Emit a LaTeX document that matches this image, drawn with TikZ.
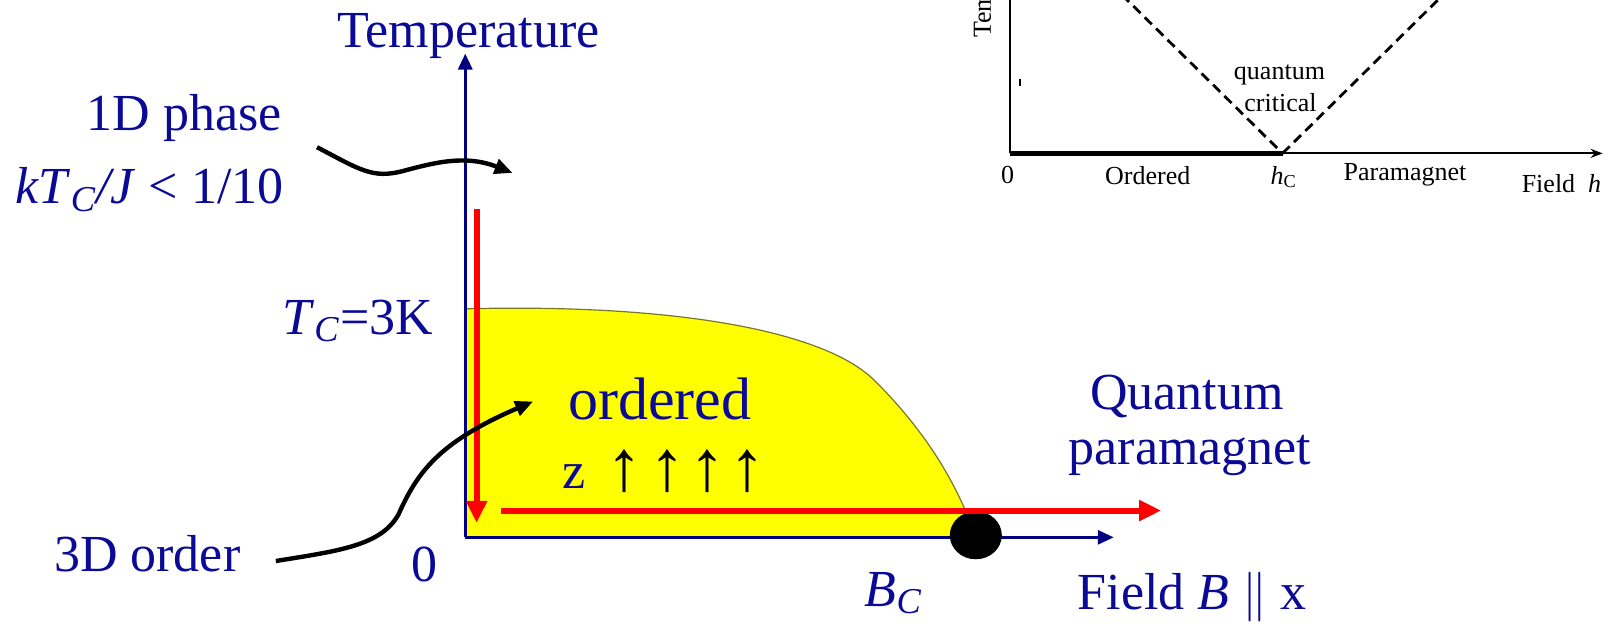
\documentclass[tikz,border=0pt]{standalone}
\usepackage{fontspec}
\setmainfont{Liberation Serif}
\usetikzlibrary{arrows.meta,shapes.geometric}
\definecolor{txtblue}{RGB}{10,10,150}
\definecolor{axblue}{RGB}{0,0,128}
\definecolor{ylw}{RGB}{255,255,0}
\definecolor{olive}{RGB}{120,120,40}
\definecolor{redA}{RGB}{255,0,0}
\tikzset{
  bigtxt/.style={text=txtblue,font=\fontsize{26}{30}\selectfont,inner sep=0pt},
  huge txt/.style={text=txtblue,font=\fontsize{30}{34}\selectfont,inner sep=0pt},
  spinarrow/.style={text=black,font=\fontsize{36}{40}\selectfont,inner sep=0pt},
  insettxt/.style={text=black,font=\fontsize{13}{16}\selectfont,inner sep=0pt},
  axisline/.style={draw=axblue,line width=1.6pt,-{Triangle[length=8pt,width=7pt]}},
  redarrow/.style={draw=redA,line width=3pt,-{Triangle[length=11pt,width=10pt]}},
  pointer/.style={draw=black,line width=2.2pt,-{Triangle[length=9pt,width=7.5pt]}},
  insetaxis/.style={draw=black,line width=1.1pt,-{Stealth[length=6pt,width=4.5pt]}},
  dashedline/.style={draw=black,line width=1.4pt,dash pattern=on 5pt off 3pt}
}
\begin{document}
\begin{tikzpicture}[x=0.5147pt,y=-0.5147pt]
\useasboundingbox (0,0) rectangle (1568,612);
\clip (0,0) rectangle (1568,612);
\fill[white] (0,0) rectangle (1568,612);

% ---------- main diagram ----------
\coordinate (O) at (452,522);
\coordinate (Ttop) at (452,52);
\coordinate (Bend) at (1082,522);

% yellow ordered region
\path[fill=ylw] (O) -- (452,300) .. controls (650,295) and (800,320) .. (850,370)
   .. controls (900,420) and (930,470) .. (948,522) -- cycle;
\draw[olive,line width=0.6pt] (452,300) .. controls (650,295) and (800,320) .. (850,370)
   .. controls (900,420) and (930,470) .. (948,522);

% axes
\draw[axisline] (O) -- (Ttop);
\draw[axisline] (O) -- (Bend);

% critical point
\node[draw=none,fill=black,ellipse,minimum width=26pt,minimum height=24pt,inner sep=0pt] (crit) at (948,520) {};

% red arrows
\coordinate (rv1) at (463,203);
\coordinate (rv2) at (463,508);
\coordinate (rh1) at (487,496);
\coordinate (rh2) at (1128,496);
\draw[redarrow] (rv1) -- (rv2);
\draw[redarrow] (rh1) -- (rh2);

% labels
\node[bigtxt] (temp) at (455,35) {Temperature};
\node[bigtxt,anchor=east] (phase1d) at (274,115) {1D phase};
\node[bigtxt,anchor=east] (ktc) at (276,184) {\textit{kT}\textsubscript{\textit{C}}\textit{/J} {<} 1/10};
\node[bigtxt,anchor=east] (tc) at (421,312) {\textit{T}\textsubscript{\textit{C}}=3K};
\node[bigtxt] (zero) at (412,548) {0};
\node[huge txt] (ordered) at (641,388) {ordered};
\node[bigtxt] (zlab) at (558,463) {z};
\node[spinarrow] (s1) at (607,458) {↑};
\node[spinarrow] (s2) at (648,458) {↑};
\node[spinarrow] (s3) at (687,458) {↑};
\node[spinarrow] (s4) at (726,458) {↑};
\node[bigtxt] (qu) at (1153,385) {Quantum};
\node[bigtxt] (pm) at (1156,442) {paramagnet};
\node[bigtxt] (order3d) at (143,538) {3D order};
\node[bigtxt] (bc) at (868,576) {\textit{B}\textsubscript{\textit{C}}};
\node[bigtxt] (field) at (1158,580) {Field \textit{B} $\parallel$ x};

% pointer curves
\coordinate (p1s) at (308,143);
\coordinate (p1e) at (498,168);
\draw[pointer] (p1s) .. controls (350,165) and (362,174) .. (392,166)
   .. controls (422,158) and (452,150) .. (p1e);
\coordinate (p2s) at (268,545);
\coordinate (p2e) at (518,390);
\draw[pointer] (p2s) .. controls (330,535) and (370,530) .. (387,500)
   .. controls (405,460) and (425,430) .. (p2e);

% ---------- inset ----------
\coordinate (iO) at (981,149);
\coordinate (iTop) at (981,-5);
\coordinate (iEnd) at (1557,149);
\coordinate (ihc) at (1246,149);
\coordinate (idl) at (1090,-5);
\coordinate (idr) at (1402,-5);
\draw[line width=1.1pt] (iO) -- (iTop);
\draw[insetaxis] (iO) -- (iEnd);
\draw[line width=2.6pt] (iO) -- (ihc);
\draw[dashedline] (idl) -- (ihc);
\draw[dashedline] (ihc) -- (idr);
\draw[line width=0.8pt] (991,77) -- (991,84);

\node[insettxt,rotate=90,anchor=west] (itemp) at (957,37) {Temperature};
\node[insettxt] (iq) at (1243,73) {quantum};
\node[insettxt] (ic) at (1244,100) {critical};
\node[insettxt] (i0) at (979,170) {0};
\node[insettxt] (iord) at (1115,171) {Ordered};
\node[insettxt] (ihcl) at (1247,172) {\textit{h}\textsubscript{C}};
\node[insettxt] (ipm) at (1365,170) {Paramagnet};
\node[insettxt] (ifield) at (1517,178) {Field \ \textit{h}};
\end{tikzpicture}
\end{document}
